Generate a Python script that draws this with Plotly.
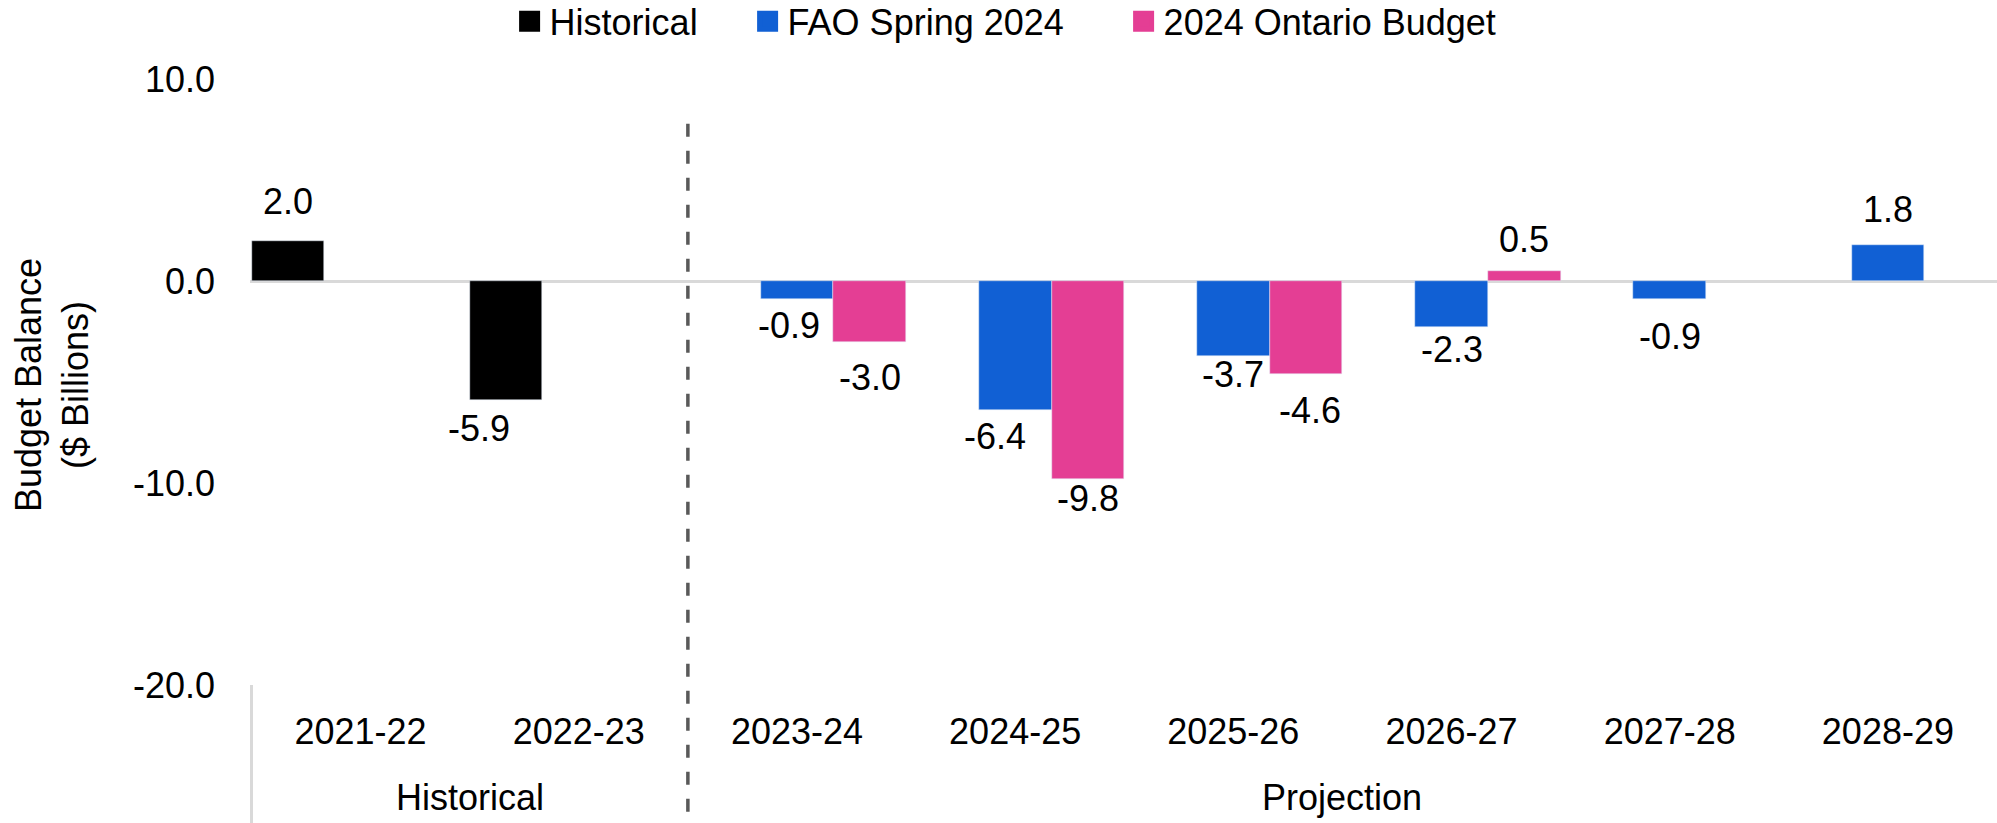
import plotly.graph_objects as go

# Budget balance, $ billions
years = ["2021-22", "2022-23", "2023-24", "2024-25", "2025-26", "2026-27", "2027-28", "2028-29"]
historical = [2.0, -5.9, None, None, None, None, None, None]
fao_spring_2024 = [None, None, -0.9, -6.4, -3.7, -2.3, -0.9, 1.8]
ontario_budget_2024 = [None, None, -3.0, -9.8, -4.6, 0.5, None, None]

series_names = ["Historical", "FAO Spring 2024", "2024 Ontario Budget"]
series_values = [historical, fao_spring_2024, ontario_budget_2024]
series_colours = ["#000000", "#1160D4", "#E43E94"]
legend_widths = [193, 331, 350]

y_ticks = [-20, -10, 0, 10]
y_tick_labels = ["-20.0", "-10.0", "0.0", "10.0"]

group_labels = ["Historical", "Projection"]
group_sizes = [2, 6]

FONT = "Liberation Sans, Arial, sans-serif"
FS = 36

# small manual nudges of individual data labels (px, right / down), as in the original
label_nudge = {
    (0, 0): (0, -4), (0, 1): (-27, 5),
    (1, 2): (-8, 3), (2, 2): (0, 13),
    (1, 3): (-20, 3), (2, 3): (0, -3),
    (1, 4): (0, -4), (2, 4): (4, 14),
    (1, 5): (0, -1), (2, 5): (0, 4),
    (1, 6): (0, 14),
}

fig = go.Figure()

for name, values, colour in zip(series_names, series_values, series_colours):
    fig.add_trace(go.Bar(x=years, y=values, name=name, marker_color=colour,
                         showlegend=False, hoverinfo="skip"))

# legend entries with bigger square swatches
for name, colour, lw in zip(series_names, series_colours, legend_widths):
    fig.add_trace(go.Scatter(x=[None], y=[None], mode="markers", name=name, legendwidth=lw,
                             marker=dict(symbol="square", size=16, color=colour,
                                         line=dict(color=colour, width=5))))

# data labels
for k, values in enumerate(series_values):
    slot = (k - 1) / 3
    for i, v in enumerate(values):
        if v is None:
            continue
        dx, dy = label_nudge.get((k, i), (0, 0))
        base = 35 if v > 0 else -23
        fig.add_annotation(x=i + slot, y=v, xref="x", yref="y", text=f"{v:.1f}",
                           showarrow=False, xshift=dx, yshift=base - dy,
                           font=dict(family=FONT, size=FS, color="#000000"))

# group labels under the year labels
start = 0
for label, size in zip(group_labels, group_sizes):
    fig.add_annotation(x=start + (size - 1) / 2, y=-0.185, xref="x", yref="paper",
                       text=label, showarrow=False, xanchor="center", yanchor="middle",
                       font=dict(family=FONT, size=FS, color="#000000"))
    start += size

# y-axis title
fig.add_annotation(x=-0.1133, y=0.495, xref="paper", yref="paper",
                   text="Budget Balance<br>($ Billions)", textangle=-90, showarrow=False,
                   xanchor="center", yanchor="middle",
                   font=dict(family=FONT, size=FS, color="#000000"))

# separator between historical and projection, and left edge line
fig.add_shape(type="line", xref="x", yref="paper", x0=group_sizes[0] - 0.5, x1=group_sizes[0] - 0.5,
              y0=0.926, y1=-0.25, line=dict(color="#595959", width=3.5, dash="13px,14px"))
fig.add_shape(type="line", xref="x", yref="paper", x0=-0.5, x1=-0.5,
              y0=0, y1=-0.25, line=dict(color="#D9D9D9", width=3))

fig.update_layout(
    width=1997, height=823,
    barmode="group", bargap=0, bargroupgap=0,
    plot_bgcolor="#FFFFFF", paper_bgcolor="#FFFFFF",
    margin=dict(l=250, r=0, t=79, b=138, autoexpand=False),
    font=dict(family=FONT, size=FS, color="#000000"),
    legend=dict(orientation="h", x=0.1486, xanchor="left", y=1.095, yanchor="middle",
                font=dict(family=FONT, size=FS, color="#000000"),
                bgcolor="rgba(0,0,0,0)", itemclick=False),
    xaxis=dict(type="category", showgrid=False, showline=False, ticks="",
               ticklabelstandoff=22, tickfont=dict(family=FONT, size=FS, color="#000000")),
    yaxis=dict(range=[-20, 10], tickvals=y_ticks, ticktext=y_tick_labels,
               showgrid=False, showline=False, ticks="", ticklabelstandoff=34,
               zeroline=True, zerolinecolor="#D9D9D9", zerolinewidth=3,
               tickfont=dict(family=FONT, size=FS, color="#000000")),
)

fig.write_html("out.html", config={"displayModeBar": False},
               post_script="document.body.style.margin='0';")
